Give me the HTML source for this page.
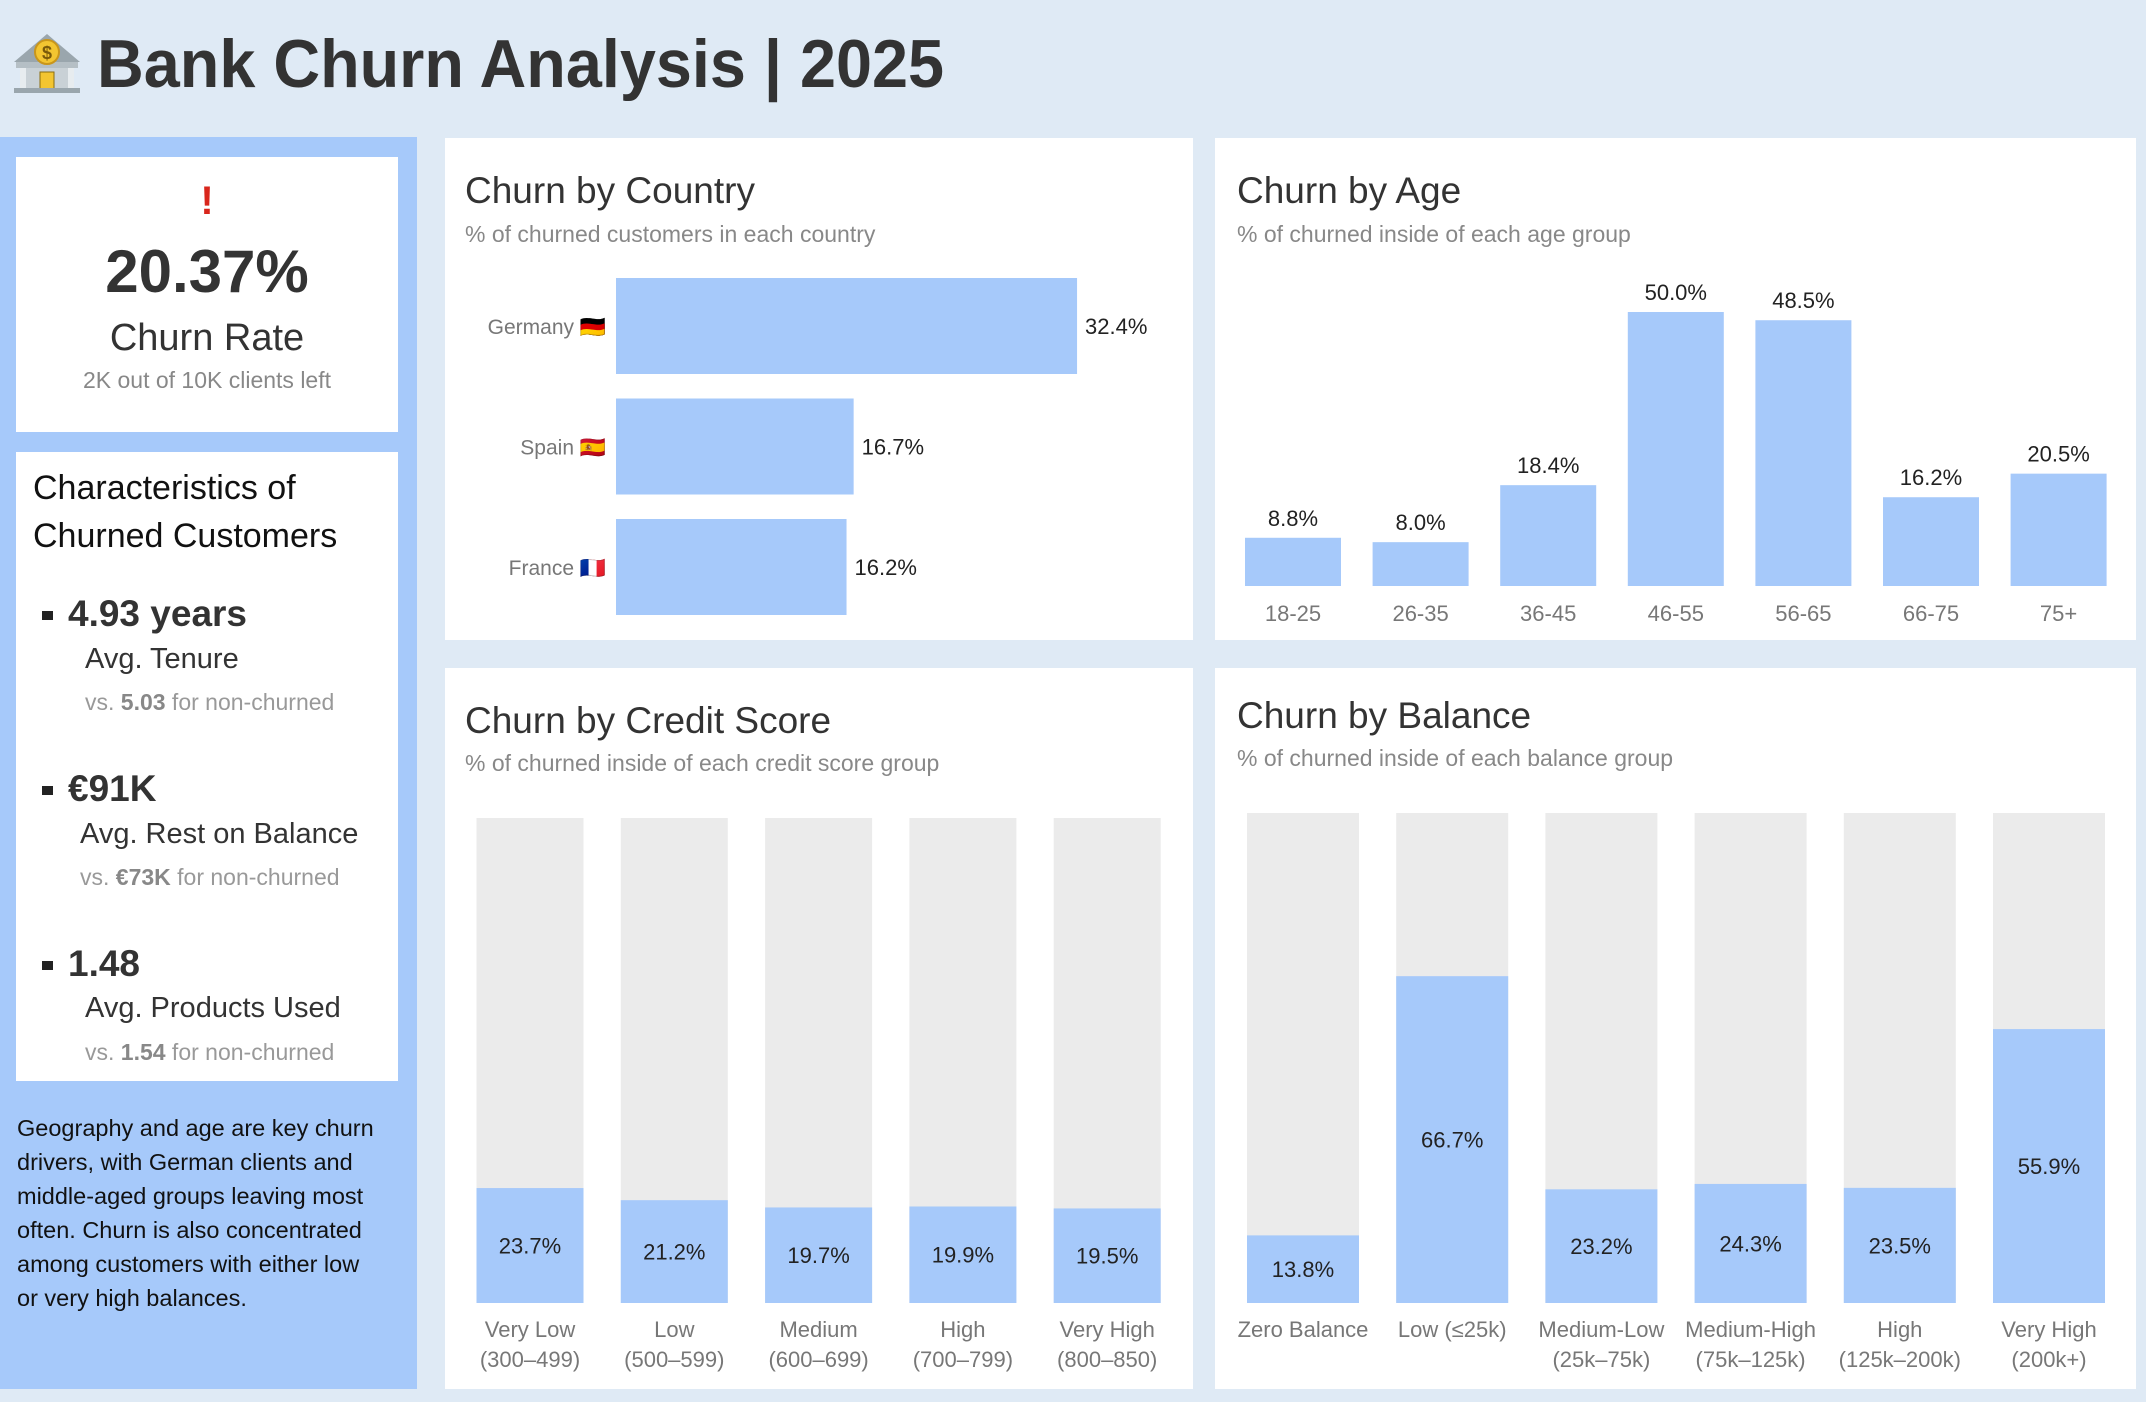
<!DOCTYPE html>
<html><head><meta charset="utf-8"><style>
html,body{margin:0;padding:0;background:#dfeaf5;}
svg{display:block;font-family:"Liberation Sans Narrow","Liberation Sans","DejaVu Sans",sans-serif;}
</style></head><body>
<svg id="s" width="2146" height="1402" viewBox="0 0 2146 1402" xmlns="http://www.w3.org/2000/svg">
<rect x="0" y="0" width="2146" height="1402" fill="#dfeaf5"/>
<g>
<polygon points="14,62 47,34 80,62" fill="#9aa6ad"/><rect x="16" y="62" width="62" height="6" fill="#b5bfc5"/>
<rect x="20" y="68" width="54" height="22" fill="#c9d1d6"/>
<rect x="20" y="68" width="6" height="22" fill="#e7ecef"/><rect x="68" y="68" width="6" height="22" fill="#e7ecef"/>
<rect x="40" y="72" width="14" height="18" fill="#f3c531" stroke="#8a6d10" stroke-width="1"/>
<rect x="14" y="88" width="66" height="5" fill="#9aa6ad"/>
<circle cx="47" cy="52" r="12" fill="#f3c531" stroke="#c9961b" stroke-width="2"/>
<text x="47" y="59" font-size="18" font-weight="bold" text-anchor="middle" fill="#7a5a0a">$</text>
</g>
<text x="97" y="87" font-size="68" font-weight="bold" fill="#333" textLength="847" lengthAdjust="spacingAndGlyphs">Bank Churn Analysis | 2025</text>

<rect x="0" y="137" width="417" height="1252" fill="#a6c9fa"/>
<rect x="16" y="157" width="382" height="275" fill="#fff"/>
<text x="207" y="214" font-size="40" font-weight="bold" fill="#d9261c" text-anchor="middle">!</text>
<text x="207" y="292" font-size="60" font-weight="bold" fill="#333" text-anchor="middle">20.37%</text>
<text x="207" y="350" font-size="38" fill="#333" text-anchor="middle">Churn Rate</text>
<text x="207" y="388" font-size="23" fill="#888" text-anchor="middle">2K out of 10K clients left</text>

<rect x="16" y="452" width="382" height="629" fill="#fff"/>
<text x="33" y="499" font-size="34" fill="#111">Characteristics of</text>
<text x="33" y="547" font-size="34" fill="#111">Churned Customers</text>
<g>
<rect x="42" y="611" width="11" height="9" fill="#222"/>
<text x="68" y="626" font-size="37" font-weight="bold" fill="#333">4.93 years</text>
<text x="85" y="668" font-size="29" fill="#333">Avg. Tenure</text>
<text x="85" y="710" font-size="23" fill="#999">vs. <tspan font-weight="bold" fill="#888">5.03</tspan> for non-churned</text></g>
<g>
<rect x="42" y="786" width="11" height="9" fill="#222"/>
<text x="68" y="801" font-size="37" font-weight="bold" fill="#333">€91K</text>
<text x="80" y="843" font-size="29" fill="#333">Avg. Rest on Balance</text>
<text x="80" y="885" font-size="23" fill="#999">vs. <tspan font-weight="bold" fill="#888">€73K</tspan> for non-churned</text></g>
<g>
<rect x="42" y="961" width="11" height="9" fill="#222"/>
<text x="68" y="976" font-size="37" font-weight="bold" fill="#333">1.48</text>
<text x="85" y="1017" font-size="29" fill="#333">Avg. Products Used</text>
<text x="85" y="1060" font-size="23" fill="#999">vs. <tspan font-weight="bold" fill="#888">1.54</tspan> for non-churned</text></g>
<g font-size="23.5" fill="#111">
<text x="17" y="1136">Geography and age are key churn</text>
<text x="17" y="1170">drivers, with German clients and</text>
<text x="17" y="1204">middle-aged groups leaving most</text>
<text x="17" y="1238">often. Churn is also concentrated</text>
<text x="17" y="1272">among customers with either low</text>
<text x="17" y="1306">or very high balances.</text></g>

<rect x="445" y="138" width="748" height="502" fill="#fff"/>
<rect x="1215" y="138" width="921" height="502" fill="#fff"/>
<rect x="445" y="668" width="748" height="721" fill="#fff"/>
<rect x="1215" y="668" width="921" height="721" fill="#fff"/>

<text x="465" y="203" font-size="37" fill="#333">Churn by Country</text>
<text x="465" y="242" font-size="23" fill="#888">% of churned customers in each country</text>
<text x="1237" y="203" font-size="37" fill="#333">Churn by Age</text>
<text x="1237" y="242" font-size="23" fill="#888">% of churned inside of each age group</text>
<text x="465" y="733" font-size="37" fill="#333">Churn by Credit Score</text>
<text x="465" y="771" font-size="23" fill="#888">% of churned inside of each credit score group</text>
<text x="1237" y="728" font-size="37" fill="#333">Churn by Balance</text>
<text x="1237" y="766" font-size="23" fill="#888">% of churned inside of each balance group</text>
<g id="charts"></g>
</svg>
<script>
const countryCats = ["Germany 🇩🇪","Spain 🇪🇸","France 🇫🇷"];
const countryVals = [32.4,16.7,16.2];
const ageCats = ["18-25","26-35","36-45","46-55","56-65","66-75","75+"];
const ageVals = [8.8,8.0,18.4,50.0,48.5,16.2,20.5];
const creditCats = [["Very Low","(300–499)"],["Low","(500–599)"],["Medium","(600–699)"],["High","(700–799)"],["Very High","(800–850)"]];
const creditVals = [23.7,21.2,19.7,19.9,19.5];
const balanceCats = [["Zero Balance"],["Low (≤25k)"],["Medium-Low","(25k–75k)"],["Medium-High","(75k–125k)"],["High","(125k–200k)"],["Very High","(200k+)"]];
const balanceVals = [13.8,66.7,23.2,24.3,23.5,55.9];

const NS="http://www.w3.org/2000/svg", G=document.getElementById('charts');
const BLUE="#a6c9fa", GRAY="#ebebeb";
function mk(tag,attrs,txt){const e=document.createElementNS(NS,tag);for(const k in attrs)e.setAttribute(k,attrs[k]);if(txt!==undefined)e.textContent=txt;G.appendChild(e);return e;}

const cx0=616, cxs=v=>v*14.23, cyC=i=>326+i*120.5;
countryCats.forEach((c,i)=>{
  const w=cxs(countryVals[i]);
  const b=mk('rect',{x:cx0,y:cyC(i)-48,width:w,height:96,fill:BLUE});
  
  
  const l=mk('text',{x:606,y:cyC(i)+8,'font-size':21,fill:'#777','text-anchor':'end'},c);
  
  
  const v=mk('text',{x:cx0+w+8,y:cyC(i)+8,'font-size':22,fill:'#222'},countryVals[i].toFixed(1)+'%');
  
  
});

const ax=i=>1293+i*127.6, ay0=586, ah=v=>v*5.48;
ageCats.forEach((c,i)=>{
  const h=ah(ageVals[i]);
  const b=mk('rect',{x:ax(i)-48,y:ay0-h,width:96,height:h,fill:BLUE});
  
  
  const v=mk('text',{x:ax(i),y:ay0-h-12,'font-size':22,fill:'#222','text-anchor':'middle'},ageVals[i].toFixed(1)+'%');
  
  
  const l=mk('text',{x:ax(i),y:621,'font-size':22,fill:'#777','text-anchor':'middle'},c);
  
  
});

function stacked(cats,vals,xf,w,top,bot,prefix){
  const H=bot-top;
  cats.forEach((c,i)=>{
    const bg=mk('rect',{x:xf(i)-w/2,y:top,width:w,height:H,fill:GRAY});
    
    
    const h=vals[i]/100*H;
    const b=mk('rect',{x:xf(i)-w/2,y:bot-h,width:w,height:h,fill:BLUE});
    
    
    const v=mk('text',{x:xf(i),y:bot-h/2+8,'font-size':22,fill:'#222','text-anchor':'middle'},vals[i].toFixed(1)+'%');
    
    
    c.forEach((line,j)=>{
      const l=mk('text',{x:xf(i),y:1337+j*30,'font-size':22,fill:'#777','text-anchor':'middle'},line);
      
      
    });
  });
}
stacked(creditCats,creditVals,i=>530+i*144.3,107,818,1303,'credit');
stacked(balanceCats,balanceVals,i=>1303+i*149.2,112,813,1303,'balance');
</script>
</body></html>
